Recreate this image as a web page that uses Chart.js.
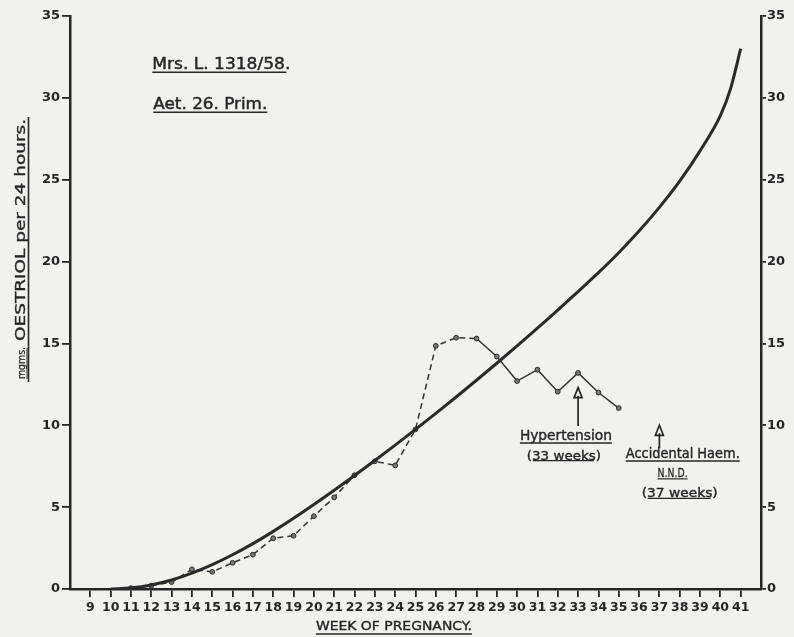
<!DOCTYPE html>
<html>
<head>
<meta charset="utf-8">
<title>Oestriol excretion in pregnancy</title>
<script src="https://cdn.jsdelivr.net/npm/chart.js@4/dist/chart.umd.min.js"></script>
<style>
  html, body { margin: 0; padding: 0; background: #f2f1ec; overflow: hidden; }
  #wrap { width: 794px; height: 637px; position: relative; }
  canvas { display: block; }
</style>
</head>
<body>
<div id="wrap"><canvas id="chart" width="794" height="637"></canvas></div>
<script>
// Week-of-pregnancy tick labels and value ticks
const weekTicks = [9,10,11,12,13,14,15,16,17,18,19,20,21,22,23,24,25,26,27,28,29,30,31,32,33,34,35,36,37,38,39,40,41];
const valueTicks = [0,5,10,15,20,25,30,35];

// Normal excretion curve (mgms. per 24 hours)
const curveWeeks  = [10,11,12,13,14,15,16,17,18,19,20,21,22,23,24,25,26,27,28,29,30,31,32,33,34,35,36,37,38,39,40,40.5,41];
const curveValues = [0,0.07,0.25,0.55,0.97,1.49,2.09,2.77,3.52,4.32,5.16,6.03,6.93,7.85,8.79,9.75,10.73,11.73,12.75,13.79,14.85,15.93,17.03,18.17,19.32,20.54,21.86,23.31,24.91,26.76,28.91,30.55,33.0];

// Observed weekly assays for the patient
const obsWeeks  = [11,12,13,14,15,16,17,18,19,20,21,22,23,24,25,26,27,28,29,30,31,32,33,34,35];
const obsValues = [0.05,0.2,0.42,1.2,1.05,1.6,2.1,3.1,3.25,4.45,5.6,6.95,7.8,7.55,9.75,14.85,15.35,15.3,14.2,12.7,13.4,12.05,13.2,12.0,11.05];

// Weeks up to which the observed line is drawn dashed
const dashedUntilWeek = 28;

const INK = '#262626';
const TICK_FONT = { family: 'DejaVu Sans', size: 13, weight: 'bold' };

function toXY(xs, ys) { return xs.map((x, i) => ({ x: x, y: ys[i] })); }

// Draw text squeezed/stretched to a given width, optionally with a heavier stroke
function fitText(ctx, text, x, y, width, font, align, heavy) {
  ctx.save();
  ctx.font = font;
  const w = ctx.measureText(text).width;
  const s = width / w;
  let left = x;
  if (align === 'center') left = x - width / 2;
  else if (align === 'right') left = x - width;
  ctx.translate(left, y);
  ctx.scale(s, 1);
  ctx.textAlign = 'left';
  ctx.fillText(text, 0, 0);
  if (heavy) {
    ctx.lineWidth = heavy;
    ctx.lineJoin = 'round';
    ctx.strokeText(text, 0, 0);
  }
  ctx.restore();
  return { left: left, right: left + width };
}

function hline(ctx, x0, x1, y, lw) {
  ctx.save();
  ctx.lineWidth = lw || 1.4;
  ctx.beginPath();
  ctx.moveTo(x0, y);
  ctx.lineTo(x1, y);
  ctx.stroke();
  ctx.restore();
}

function arrowUp(ctx, x, yTail, yHead) {
  ctx.save();
  ctx.lineWidth = 1.7;
  ctx.beginPath();
  ctx.moveTo(x, yTail);
  ctx.lineTo(x, yHead + 8);
  ctx.stroke();
  ctx.beginPath();
  ctx.moveTo(x, yHead);
  ctx.lineTo(x - 4, yHead + 10);
  ctx.lineTo(x + 4, yHead + 10);
  ctx.closePath();
  ctx.stroke();
  ctx.restore();
}

const annotations = {
  id: 'annotations',
  afterDraw(chart) {
    const ctx = chart.ctx;
    const xs = chart.scales.x, ys = chart.scales.y;
    const X = v => xs.getPixelForValue(v);
    const Y = v => ys.getPixelForValue(v);
    ctx.save();
    ctx.fillStyle = INK;
    ctx.strokeStyle = INK;
    ctx.textBaseline = 'alphabetic';

    // Case heading
    let r = fitText(ctx, 'Mrs. L. 1318/58.', X(12.05), Y(31.75), 138, '16px "DejaVu Sans"', 'left', 0.45);
    hline(ctx, r.left, r.right - 4, Y(31.75) + 3, 1.6);
    r = fitText(ctx, 'Aet. 26. Prim.', X(12.1), Y(29.3), 114, '16px "DejaVu Sans"', 'left', 0.45);
    hline(ctx, r.left, r.right, Y(29.3) + 3, 1.6);

    // Hypertension at 33 weeks
    r = fitText(ctx, 'Hypertension', X(32.4), Y(9.1), 92, '14px "DejaVu Sans"', 'center', 0.4);
    hline(ctx, r.left, r.right, Y(9.1) + 3, 1.4);
    r = fitText(ctx, '(33 weeks)', X(32.3), Y(7.9), 74, '13px "DejaVu Sans"', 'center', 0.4);
    hline(ctx, r.left + 6, r.right - 7, Y(7.9) + 1, 1.2);
    arrowUp(ctx, X(33), Y(9.95), Y(12.3));

    // Accidental haemorrhage at 37 weeks
    r = fitText(ctx, 'Accidental Haem.', X(38.15), Y(8.0), 114, '14px "DejaVu Sans"', 'center', 0.4);
    hline(ctx, r.left, r.right, Y(8.0) + 3, 1.4);
    r = fitText(ctx, 'N.N.D.', X(37.65), Y(6.85), 30, '13px "DejaVu Sans"', 'center', 0.3);
    hline(ctx, r.left, r.right, Y(6.85) + 2, 1.2);
    r = fitText(ctx, '(37 weeks)', X(38.0), Y(5.6), 76, '13px "DejaVu Sans"', 'center', 0.4);
    hline(ctx, r.left + 6, r.right - 7, Y(5.6) + 1, 1.2);
    arrowUp(ctx, X(37), Y(8.6), Y(10.0));

    // X axis title
    r = fitText(ctx, 'WEEK OF PREGNANCY.', X(20.1), 630, 156, '13px "DejaVu Sans"', 'left', 0.4);
    hline(ctx, r.left, r.right, 634, 1.6);

    // Rotated Y axis title
    ctx.save();
    ctx.translate(25, 379);
    ctx.rotate(-Math.PI / 2);
    fitText(ctx, 'mgms.', 0, 0, 32, '10px "DejaVu Sans"', 'left', 0.2);
    fitText(ctx, 'OESTRIOL per 24 hours.', 38, 0, 222, '14px "DejaVu Sans"', 'left', 0.35);
    hline(ctx, 0, 31, 2, 1.0);
    ctx.restore();
    ctx.save();
    ctx.lineWidth = 1.6;
    ctx.beginPath();
    ctx.moveTo(28.5, 382);
    ctx.lineTo(28.5, 117);
    ctx.stroke();
    ctx.restore();

    ctx.restore();
  }
};

const fixedTicks = (values) => function (scale) {
  scale.ticks = values.map(v => ({ value: v }));
};

const axisGrid = (len) => ({
  drawOnChartArea: false,
  drawTicks: true,
  tickLength: len,
  color: INK,
  lineWidth: 1.8
});

new Chart(document.getElementById('chart'), {
  type: 'line',
  data: {
    datasets: [
      {
        label: 'Normal',
        data: toXY(curveWeeks, curveValues),
        borderColor: '#2a2a2a',
        borderWidth: 3,
        pointRadius: 0,
        cubicInterpolationMode: 'monotone',
        fill: false
      },
      {
        label: 'Observed',
        data: toXY(obsWeeks, obsValues),
        borderColor: '#333',
        borderWidth: 1.5,
        pointRadius: 2.4,
        pointBackgroundColor: '#777',
        pointBorderColor: '#2a2a2a',
        pointBorderWidth: 1,
        tension: 0,
        fill: false,
        segment: {
          borderDash: c => (c.p1.parsed.x <= dashedUntilWeek ? [6, 4] : undefined)
        }
      }
    ]
  },
  options: {
    responsive: false,
    animation: false,
    devicePixelRatio: 1,
    layout: { padding: { top: 16, left: 0, right: 0, bottom: 0 } },
    plugins: { legend: { display: false }, tooltip: { enabled: false }, title: { display: false } },
    scales: {
      x: {
        type: 'linear',
        position: 'bottom',
        min: 8,
        max: 42,
        afterBuildTicks: fixedTicks(weekTicks),
        afterFit: s => { s.height = 48; },
        grid: axisGrid(8),
        border: { display: true, color: INK, width: 2.5 },
        ticks: {
          color: INK,
          font: { family: 'DejaVu Sans', size: 12.5, weight: 'bold' },
          padding: 3,
          maxRotation: 0,
          autoSkip: false,
          callback: v => String(v)
        }
      },
      y: {
        type: 'linear',
        position: 'left',
        min: 0,
        max: 35,
        afterBuildTicks: fixedTicks(valueTicks),
        afterFit: s => { s.width = 70; },
        grid: axisGrid(8),
        border: { display: true, color: INK, width: 2.5 },
        ticks: { color: INK, font: TICK_FONT, padding: 2, callback: v => String(v) }
      },
      y2: {
        type: 'linear',
        position: 'right',
        min: 0,
        max: 35,
        afterBuildTicks: fixedTicks(valueTicks),
        afterFit: s => { s.width = 33; },
        grid: axisGrid(5),
        border: { display: true, color: INK, width: 2.5 },
        ticks: { color: INK, font: TICK_FONT, padding: 1, callback: v => String(v) }
      }
    }
  },
  plugins: [annotations]
});
</script>
</body>
</html>
